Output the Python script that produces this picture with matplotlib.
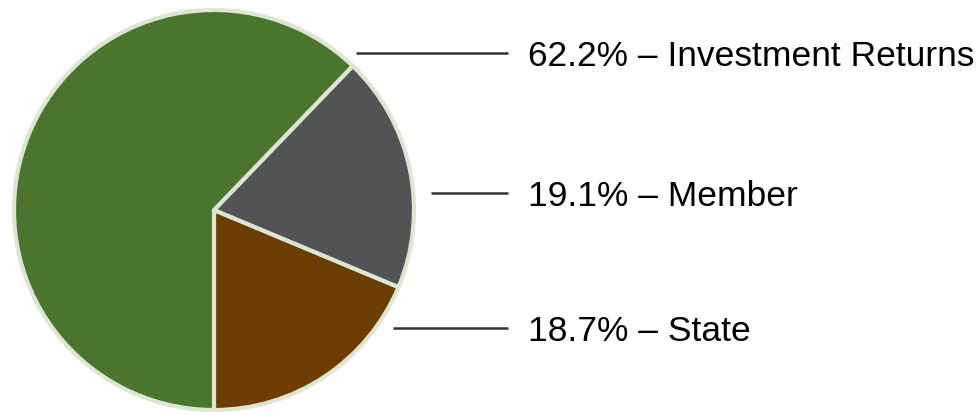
import matplotlib
matplotlib.use("Agg")
import matplotlib.pyplot as plt
import numpy as np

categories = ["State", "Member", "Investment Returns"]
values = [18.7, 19.1, 62.2]
colors = ["#6b3d00", "#525355", "#4a752c"]
label_y_px = [328, 193, 53]  # leader line heights (figure pixels from top)

W, H = 979, 415
fig = plt.figure(figsize=(W / 100, H / 100), dpi=100)
fig.patch.set_facecolor("white")

cx, cy, r = 214, 210, 200
ax = fig.add_axes([(cx - r) / W, (H - cy - r) / H, 2 * r / W, 2 * r / H])
ax.pie(values, colors=colors, startangle=-90, counterclock=True, radius=1.0,
       wedgeprops=dict(edgecolor="#dde5d3", linewidth=3.0))
ax.set_xlim(-1, 1)
ax.set_ylim(-1, 1)
ax.set_aspect("equal")
ax.axis("off")

line_end = (508 - cx) / r
text_x = (528 - cx) / r
gap = 18 / r
for cat, val, ypx in zip(categories, values, label_y_px):
    y = (cy - ypx) / r
    xs = np.sqrt(max(1 - y * y, 0)) + gap
    ax.plot([xs, line_end], [y, y], color="#333333", lw=1.8, clip_on=False,
            solid_capstyle="butt")
    ax.text(text_x, y - 13 / r, f"{val:.1f}% \u2013 {cat}", fontsize=25.5,
            family="Liberation Sans", color="black", va="baseline", ha="left",
            clip_on=False)

fig.savefig("out.png", dpi=100)
